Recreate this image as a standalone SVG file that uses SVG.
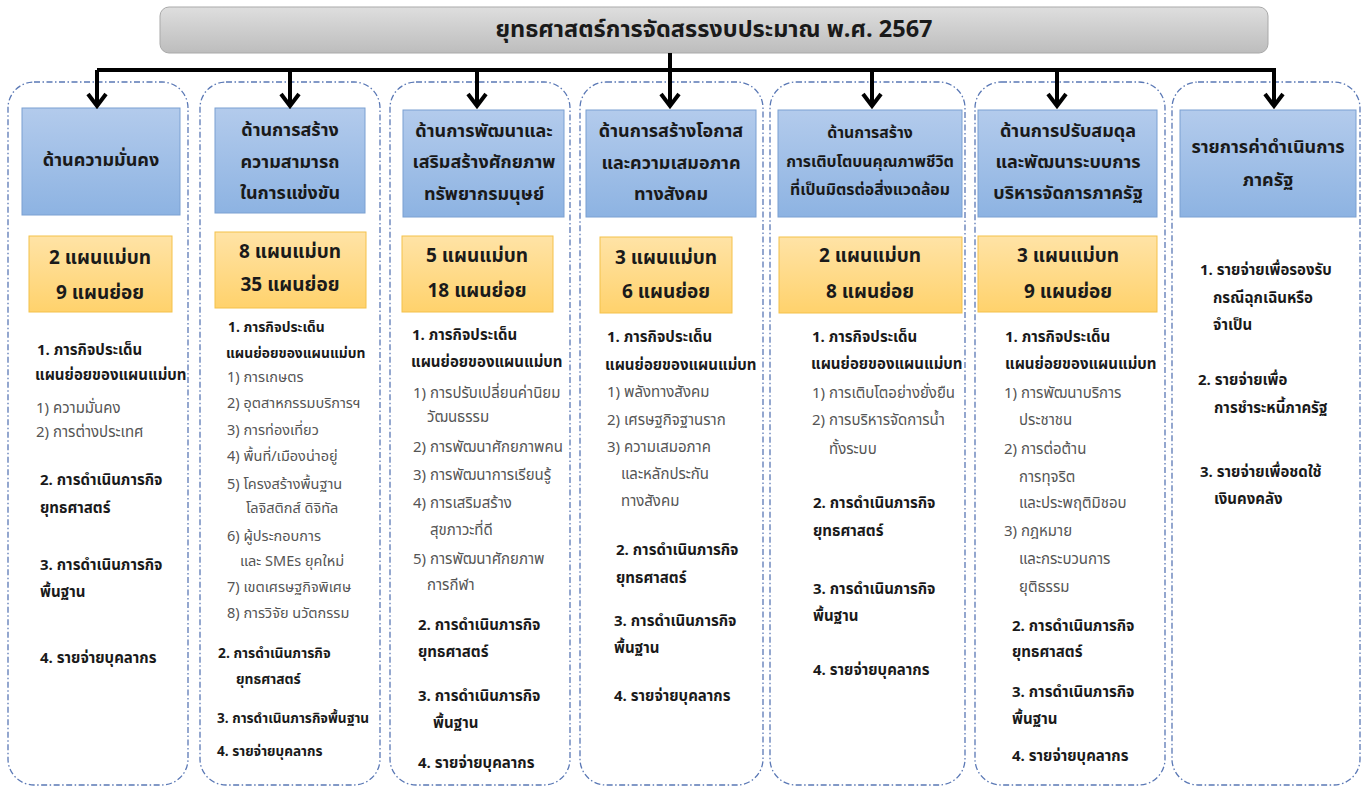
<svg xmlns="http://www.w3.org/2000/svg" width="1371" height="789" viewBox="0 0 1371 789">
<defs>
<linearGradient id="gTitle" x1="0" y1="0" x2="0" y2="1"><stop offset="0" stop-color="#dedede"/><stop offset="1" stop-color="#bdbdbd"/></linearGradient>
<linearGradient id="gBlue" x1="0" y1="0" x2="0" y2="1"><stop offset="0" stop-color="#b3cbec"/><stop offset="1" stop-color="#8db3e2"/></linearGradient>
<linearGradient id="gOrange" x1="0" y1="0" x2="0" y2="1"><stop offset="0" stop-color="#ffe3a6"/><stop offset="1" stop-color="#ffd26c"/></linearGradient>
<style>
text{font-family:Tahoma,"Noto Sans Thai","Leelawadee UI","Noto Sans","DejaVu Sans",sans-serif;dominant-baseline:central;fill:#1a1a1a}
.col{fill:#fff;stroke:#5a78b5;stroke-width:1.3;stroke-dasharray:6 2.5 1.5 2.5}
.blue{fill:url(#gBlue);stroke:#7aa0d2;stroke-width:1}
.orange{fill:url(#gOrange);stroke:#f4c14a;stroke-width:1}
.ht{font-size:18px;font-weight:bold;text-anchor:middle}
.ht2{font-size:15.8px;font-weight:bold;text-anchor:middle}
.ot{font-size:19px;font-weight:bold;text-anchor:middle}
.b{font-size:15px;font-weight:bold}
.n{font-size:15px;fill:#555}
.bs{font-size:13.8px;font-weight:bold}
.ns{font-size:14.5px;fill:#555}
.conn{stroke:#000;stroke-width:4;fill:none}
.head{stroke:#000;stroke-width:4;fill:none;stroke-linejoin:miter}
</style>
</defs>
<rect width="1371" height="789" fill="#fff"/>

<g id="title">
<rect x="160" y="7" width="1108" height="46" rx="9" fill="url(#gTitle)" stroke="#a9a9a9" stroke-width="1"/>
<text x="714" y="30" style="font-size:23.5px;font-weight:bold;text-anchor:middle">ยุทธศาสตร์การจัดสรรงบประมาณ พ.ศ. 2567</text>
</g>

<g id="col1">
<rect class="col" x="8" y="82" width="180" height="703" rx="26"/>
<rect class="blue" x="22" y="108" width="158" height="107"/>
<text class="ht" x="101" y="160">ด้านความมั่นคง</text>
<rect class="orange" x="29" y="236" width="143" height="76"/>
<text class="ot" x="100" y="258">2 แผนแม่บท</text>
<text class="ot" x="100" y="293">9 แผนย่อย</text>
<text class="b" x="37" y="350">1. ภารกิจประเด็น</text>
<text class="b" x="35" y="375">แผนย่อยของแผนแม่บท</text>
<text class="n" x="36" y="408">1) ความมั่นคง</text>
<text class="n" x="36" y="432">2) การต่างประเทศ</text>
<text class="b" x="40" y="480">2. การดำเนินภารกิจ</text>
<text class="b" x="40" y="508">ยุทธศาสตร์</text>
<text class="b" x="40" y="565">3. การดำเนินภารกิจ</text>
<text class="b" x="40" y="592">พื้นฐาน</text>
<text class="b" x="40" y="658">4. รายจ่ายบุคลากร</text>
</g>

<g id="col2">
<rect class="col" x="200" y="82" width="180" height="703" rx="26"/>
<rect class="blue" x="215" y="108" width="150" height="105"/>
<text class="ht" x="290" y="130">ด้านการสร้าง</text>
<text class="ht" x="290" y="162">ความสามารถ</text>
<text class="ht" x="290" y="193">ในการแข่งขัน</text>
<rect class="orange" x="215" y="232" width="151" height="76"/>
<text class="ot" x="290" y="252">8 แผนแม่บท</text>
<text class="ot" x="290" y="285">35 แผนย่อย</text>
<text class="bs" x="228" y="327">1. ภารกิจประเด็น</text>
<text class="bs" x="226" y="353">แผนย่อยของแผนแม่บท</text>
<text class="ns" x="227" y="378">1) การเกษตร</text>
<text class="ns" x="227" y="404">2) อุตสาหกรรมบริการฯ</text>
<text class="ns" x="227" y="431">3) การท่องเที่ยว</text>
<text class="ns" x="227" y="457">4) พื้นที่/เมืองน่าอยู่</text>
<text class="ns" x="227" y="485">5) โครงสร้างพื้นฐาน</text>
<text class="ns" x="246" y="509">โลจิสติกส์ ดิจิทัล</text>
<text class="ns" x="227" y="537">6) ผู้ประกอบการ</text>
<text class="ns" x="240" y="562">และ SMEs ยุคใหม่</text>
<text class="ns" x="227" y="588">7) เขตเศรษฐกิจพิเศษ</text>
<text class="ns" x="227" y="614">8) การวิจัย นวัตกรรม</text>
<text class="bs" x="218" y="653">2. การดำเนินภารกิจ</text>
<text class="bs" x="236" y="679">ยุทธศาสตร์</text>
<text class="bs" x="217" y="719" style="font-size:13.6px">3. การดำเนินภารกิจพื้นฐาน</text>
<text class="bs" x="217" y="752" style="font-size:13.6px">4. รายจ่ายบุคลากร</text>
</g>

<g id="col3">
<rect class="col" x="390" y="82" width="180" height="703" rx="26"/>
<rect class="blue" x="403" y="110" width="161" height="107"/>
<text class="ht" x="484" y="131">ด้านการพัฒนาและ</text>
<text class="ht" x="484" y="162">เสริมสร้างศักยภาพ</text>
<text class="ht" x="484" y="194">ทรัพยากรมนุษย์</text>
<rect class="orange" x="402" y="236" width="151" height="76"/>
<text class="ot" x="477" y="256">5 แผนแม่บท</text>
<text class="ot" x="477" y="291">18 แผนย่อย</text>
<text class="b" x="412" y="335">1. ภารกิจประเด็น</text>
<text class="b" x="411" y="362">แผนย่อยของแผนแม่บท</text>
<text class="n" x="413" y="393">1) การปรับเปลี่ยนค่านิยม</text>
<text class="n" x="427" y="417">วัฒนธรรม</text>
<text class="n" x="413" y="447">2) การพัฒนาศักยภาพคน</text>
<text class="n" x="413" y="475">3) การพัฒนาการเรียนรู้</text>
<text class="n" x="413" y="503">4) การเสริมสร้าง</text>
<text class="n" x="430" y="530">สุขภาวะที่ดี</text>
<text class="n" x="413" y="559">5) การพัฒนาศักยภาพ</text>
<text class="n" x="427" y="585">การกีฬา</text>
<text class="b" x="418" y="625">2. การดำเนินภารกิจ</text>
<text class="b" x="418" y="652">ยุทธศาสตร์</text>
<text class="b" x="418" y="696">3. การดำเนินภารกิจ</text>
<text class="b" x="433" y="723">พื้นฐาน</text>
<text class="b" x="418" y="763">4. รายจ่ายบุคลากร</text>
</g>

<g id="col4">
<rect class="col" x="580" y="82" width="183" height="703" rx="26"/>
<rect class="blue" x="586" y="110" width="170" height="107"/>
<text class="ht" x="671" y="131">ด้านการสร้างโอกาส</text>
<text class="ht" x="671" y="163">และความเสมอภาค</text>
<text class="ht" x="671" y="194">ทางสังคม</text>
<rect class="orange" x="600" y="237" width="132" height="76"/>
<text class="ot" x="666" y="258">3 แผนแม่บท</text>
<text class="ot" x="666" y="292">6 แผนย่อย</text>
<text class="b" x="607" y="337">1. ภารกิจประเด็น</text>
<text class="b" x="605" y="365">แผนย่อยของแผนแม่บท</text>
<text class="n" x="607" y="392">1) พลังทางสังคม</text>
<text class="n" x="607" y="420">2) เศรษฐกิจฐานราก</text>
<text class="n" x="607" y="447">3) ความเสมอภาค</text>
<text class="n" x="621" y="474">และหลักประกัน</text>
<text class="n" x="621" y="501">ทางสังคม</text>
<text class="b" x="616" y="550">2. การดำเนินภารกิจ</text>
<text class="b" x="616" y="578">ยุทธศาสตร์</text>
<text class="b" x="614" y="621">3. การดำเนินภารกิจ</text>
<text class="b" x="614" y="648">พื้นฐาน</text>
<text class="b" x="614" y="696">4. รายจ่ายบุคลากร</text>
</g>

<g id="col5">
<rect class="col" x="770" y="82" width="195" height="703" rx="26"/>
<rect class="blue" x="778" y="110" width="184" height="107"/>
<text class="ht2" x="870" y="133">ด้านการสร้าง</text>
<text class="ht2" x="870" y="162">การเติบโตบนคุณภาพชีวิต</text>
<text class="ht2" x="870" y="190">ที่เป็นมิตรต่อสิ่งแวดล้อม</text>
<rect class="orange" x="779" y="237" width="183" height="76"/>
<text class="ot" x="870" y="256">2 แผนแม่บท</text>
<text class="ot" x="870" y="292">8 แผนย่อย</text>
<text class="b" x="812" y="337">1. ภารกิจประเด็น</text>
<text class="b" x="811" y="364">แผนย่อยของแผนแม่บท</text>
<text class="n" x="812" y="393">1) การเติบโตอย่างยั่งยืน</text>
<text class="n" x="812" y="420">2) การบริหารจัดการน้ำ</text>
<text class="n" x="829" y="449">ทั้งระบบ</text>
<text class="b" x="813" y="503">2. การดำเนินภารกิจ</text>
<text class="b" x="813" y="531">ยุทธศาสตร์</text>
<text class="b" x="813" y="589">3. การดำเนินภารกิจ</text>
<text class="b" x="813" y="616">พื้นฐาน</text>
<text class="b" x="813" y="670">4. รายจ่ายบุคลากร</text>
</g>

<g id="col6">
<rect class="col" x="975" y="82" width="190" height="703" rx="26"/>
<rect class="blue" x="978" y="110" width="179" height="107"/>
<text class="ht" x="1068" y="131">ด้านการปรับสมดุล</text>
<text class="ht" x="1068" y="162">และพัฒนาระบบการ</text>
<text class="ht" x="1068" y="193">บริหารจัดการภาครัฐ</text>
<rect class="orange" x="978" y="236" width="179" height="76"/>
<text class="ot" x="1068" y="256">3 แผนแม่บท</text>
<text class="ot" x="1068" y="292">9 แผนย่อย</text>
<text class="b" x="1005" y="337">1. ภารกิจประเด็น</text>
<text class="b" x="1005" y="364">แผนย่อยของแผนแม่บท</text>
<text class="n" x="1004" y="393">1) การพัฒนาบริการ</text>
<text class="n" x="1019" y="420">ประชาชน</text>
<text class="n" x="1004" y="449">2) การต่อต้าน</text>
<text class="n" x="1019" y="477">การทุจริต</text>
<text class="n" x="1019" y="503">และประพฤติมิชอบ</text>
<text class="n" x="1004" y="531">3) กฎหมาย</text>
<text class="n" x="1019" y="559">และกระบวนการ</text>
<text class="n" x="1019" y="587">ยุติธรรม</text>
<text class="b" x="1012" y="626">2. การดำเนินภารกิจ</text>
<text class="b" x="1012" y="652">ยุทธศาสตร์</text>
<text class="b" x="1012" y="692">3. การดำเนินภารกิจ</text>
<text class="b" x="1012" y="719">พื้นฐาน</text>
<text class="b" x="1012" y="756">4. รายจ่ายบุคลากร</text>
</g>

<g id="col7">
<rect class="col" x="1172" y="82" width="188" height="703" rx="26"/>
<rect class="blue" x="1180" y="110" width="176" height="107"/>
<text class="ht" x="1268" y="147">รายการค่าดำเนินการ</text>
<text class="ht" x="1268" y="180">ภาครัฐ</text>
<text class="b" x="1200" y="270">1. รายจ่ายเพื่อรองรับ</text>
<text class="b" x="1213" y="298">กรณีฉุกเฉินหรือ</text>
<text class="b" x="1213" y="325">จำเป็น</text>
<text class="b" x="1198" y="380">2. รายจ่ายเพื่อ</text>
<text class="b" x="1214" y="408">การชำระหนี้ภาครัฐ</text>
<text class="b" x="1200" y="472">3. รายจ่ายเพื่อชดใช้</text>
<text class="b" x="1214" y="499">เงินคงคลัง</text>
</g>

<g id="connectors">
<path class="conn" d="M670,53 V106"/>
<path class="conn" d="M97,70 H1276"/>
<path class="conn" d="M97,70 V106 M290,70 V106 M477,70 V106 M872,70 V106 M1057,70 V106 M1274,70 V106"/>
<path class="head" d="M88,94 L97,106 L106,94 M281,94 L290,106 L299,94 M468,94 L477,106 L486,94 M661,94 L670,106 L679,94 M863,94 L872,106 L881,94 M1048,94 L1057,106 L1066,94 M1265,94 L1274,106 L1283,94"/>
</g>
</svg>
